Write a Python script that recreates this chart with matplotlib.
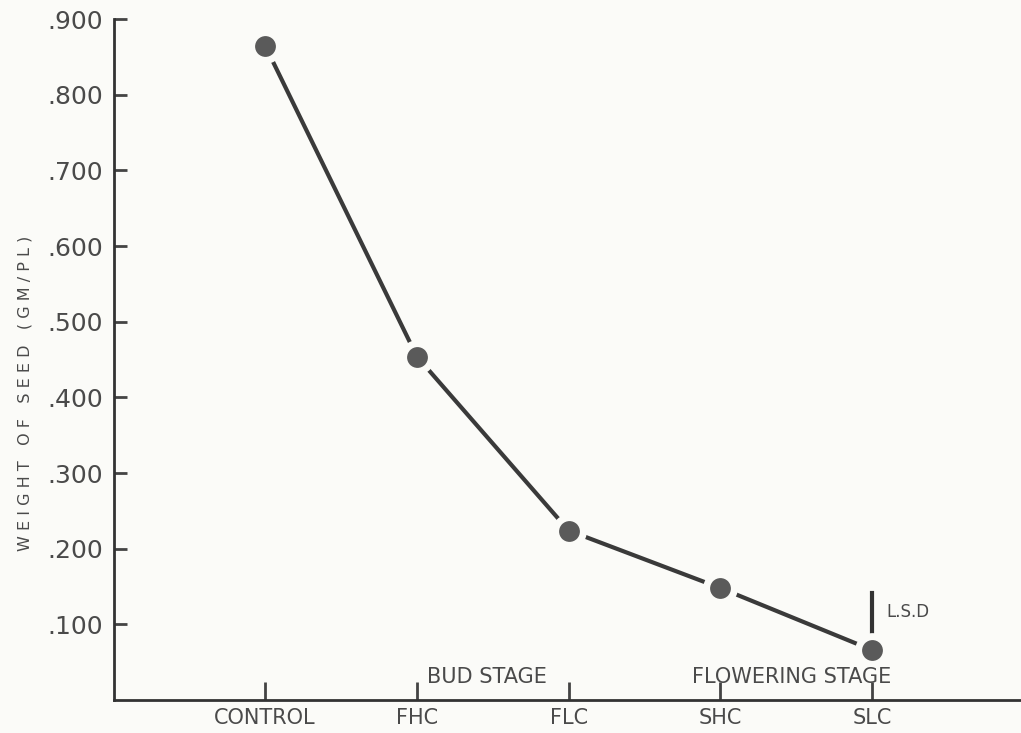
import matplotlib.pyplot as plt

# Datos
treatments = ['CONTROL', 'FHC', 'FLC', 'SHC', 'SLC']
seed_weight = [0.865, 0.454, 0.224, 0.148, 0.066]
y_ticks = [0.1, 0.2, 0.3, 0.4, 0.5, 0.6, 0.7, 0.8, 0.9]
y_tick_labels = ['.100', '.200', '.300', '.400', '.500', '.600', '.700', '.800', '.900']
lsd_low, lsd_high = 0.090, 0.142

plt.rcParams['font.family'] = ['DejaVu Sans']
bg = '#fbfbf8'
txt = '#4a4a4a'

fig = plt.figure(figsize=(10.21, 7.33), dpi=100, facecolor=bg)
ax = fig.add_axes([0.1117, 0.045, 0.8883, 0.929])
ax.set_facecolor(bg)

x = list(range(len(treatments)))
ax.plot(x, seed_weight, color='#3a3a3a', lw=3, zorder=2)
ax.plot(x, seed_weight, 'o', ms=20, color='#5a5a5a', mec=bg, mew=5, zorder=3)

# barra L.S.D
ax.plot([x[-1], x[-1]], [lsd_low, lsd_high], color='#333333', lw=3)
ax.text(x[-1] + 0.09, (lsd_low + lsd_high) / 2, 'L.S.D', fontsize=12,
        color=txt, va='center', ha='left')

ax.text(1.46, 0.03, 'BUD STAGE', fontsize=15, color=txt, ha='center', va='center')
ax.text(3.47, 0.03, 'FLOWERING STAGE', fontsize=15, color=txt, ha='center', va='center')

ax.set_xlim(-0.995, 4.98)
ax.set_ylim(0, 0.9)
ax.set_xticks(x)
ax.set_xticklabels(treatments)
ax.set_yticks(y_ticks)
ax.set_yticklabels(y_tick_labels)

for s in ['top', 'right']:
    ax.spines[s].set_visible(False)
for s in ['left', 'bottom']:
    ax.spines[s].set_color('#333333')
    ax.spines[s].set_linewidth(2)

ax.tick_params(axis='y', direction='in', length=9, width=2, color='#444444',
               labelsize=18, labelcolor=txt, pad=8)
ax.tick_params(axis='x', direction='in', length=13, width=2, color='#444444',
               labelsize=15, labelcolor=txt, pad=6)

ax.set_ylabel('W E I G H T   O F   S E E D   ( G M / P L )', fontsize=11.5,
              color=txt, labelpad=10)
ax.yaxis.set_label_coords(-0.09, 0.45)

fig.savefig('out.png', dpi=100, facecolor=fig.get_facecolor())
